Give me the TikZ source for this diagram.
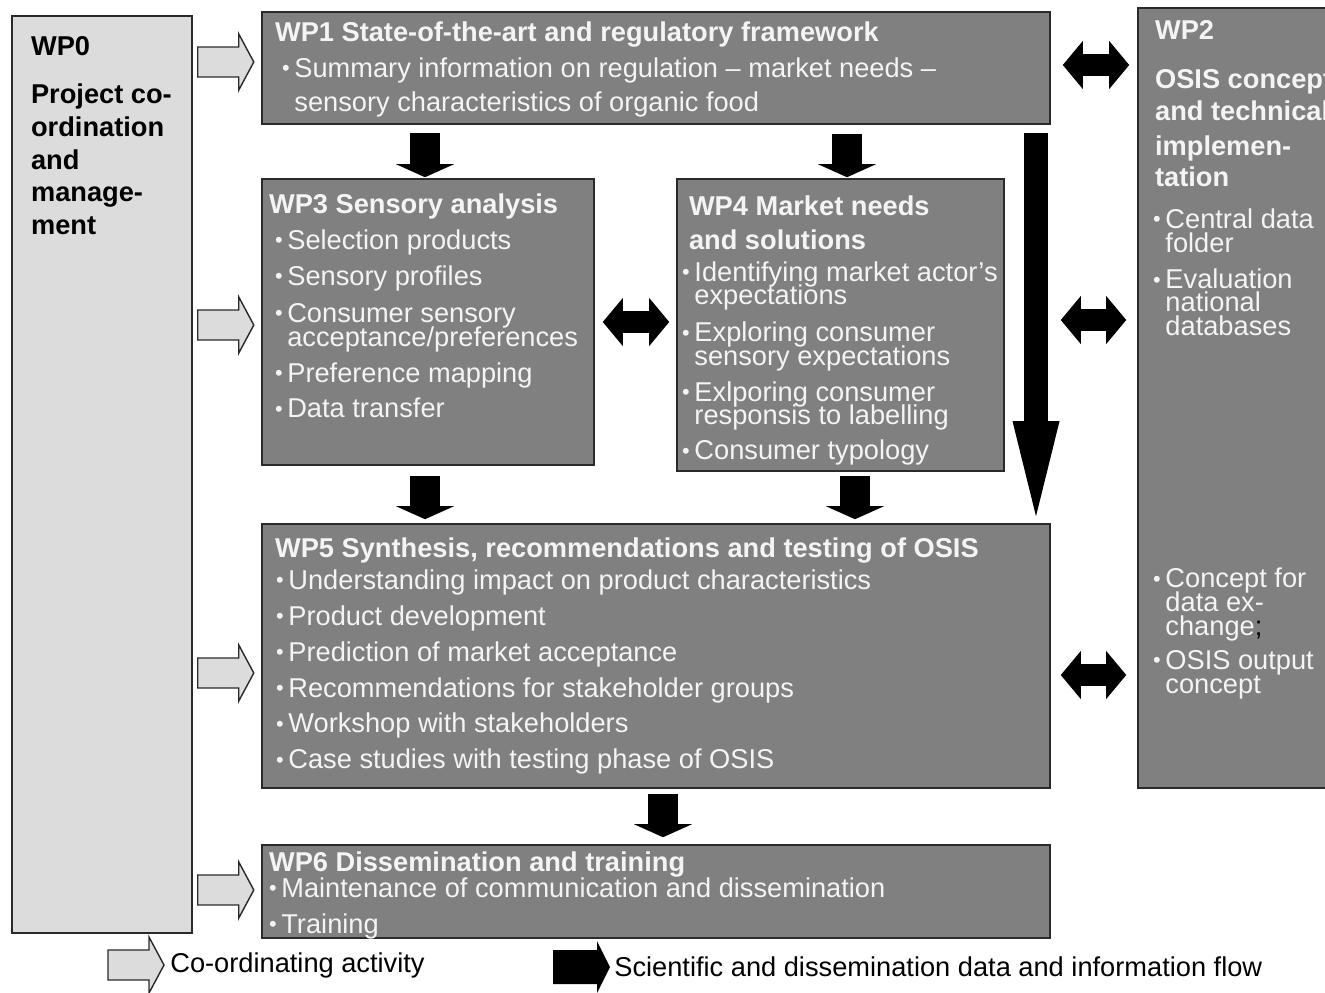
\documentclass[tikz,border=0pt]{standalone}
\usepackage{fontspec}
\setmainfont{Liberation Sans}
\usetikzlibrary{arrows.meta, positioning, calc, fit}
\definecolor{wpgray}{HTML}{808080}
\definecolor{wplight}{HTML}{DCDCDC}
\definecolor{wptext}{HTML}{F4F4F4}
\definecolor{wpline}{HTML}{2A2A2A}
\newcommand\bul{\makebox[7pt][l]{\raisebox{1pt}{\scalebox{0.8}{\textbullet}}}}
\newcommand\bulind{\hspace*{7pt}}

\begin{document}
\lineskiplimit=-20pt
\begin{tikzpicture}[x=0.02cm, y=-0.02cm, font=\fontsize{15.5}{13.6}\selectfont, >=Stealth]
  \tikzset{
    wpbox/.style={draw=wpline, line width=0.9pt, fill=wpgray, inner sep=0pt},
    wptxt/.style={anchor=north west, inner sep=0pt, align=left, text=wptext},
    flow/.style={line width=0.6cm, -{Triangle[length=0.26cm, width=1.16cm, line width=0pt]}},
    flowlong/.style={line width=0.48cm, -{Triangle[length=1.9cm, width=0.94cm, line width=0pt]}},
    flowboth/.style={line width=0.44cm, {Triangle[length=0.4cm, width=0.96cm, line width=0pt]}-{Triangle[length=0.4cm, width=0.96cm, line width=0pt]}},
    coordarrow/.pic={\draw[draw=wpline, fill=wplight, line width=0.8pt]
      (0,-15) -- (41,-15) -- (41,-28) -- (56,0) -- (41,28) -- (41,15) -- (0,15) -- cycle;},
    flowkey/.pic={\fill (0,-17) -- (44,-17) -- (44,-26) -- (57,0) -- (44,26) -- (44,17) -- (0,17) -- cycle;}
  }
  \path[use as bounding box] (0,0) rectangle (1325,992);
  \clip (0,0) rectangle (1325,992);

  % work packages
  \node[wpbox, fill=wplight, fit={(12,16) (192,933)}] (wp0) {};
  \node[wpbox, fit={(262,12) (1050,124)}] (wp1) {};
  \node[wpbox, fit={(1138,8) (1350,788)}] (wp2) {};
  \node[wpbox, fit={(262,179) (594,465)}] (wp3) {};
  \node[wpbox, fit={(677,179) (1004,471)}] (wp4) {};
  \node[wpbox, fit={(262,524) (1050,788)}] (wp5) {};
  \node[wpbox, fit={(262,845) (1050,938)}] (wp6) {};

  \node[wptxt, text=black, font=\fontsize{15.5}{18.6}\selectfont\bfseries] (wp0txt) at ($(wp0.north west)+(19.5,20.5)$)
    {WP0\\[9.1pt] Project co-\\ ordination\\ and\\ manage-\\ ment};
  \node[wptxt] (wp1txt) at ($(wp1.north west)+(13.5,10.5)$)
    {\textbf{WP1 State-of-the-art and regulatory framework}\\[6.8pt]
     \hspace*{4pt}\bul Summary information on regulation – market needs –\\[5.7pt]
     \hspace*{4pt}\bulind sensory characteristics of organic food};
  \node[wptxt] (wp2txt) at ($(wp2.north west)+(15.6,12.5)$)
    {\hspace*{1.1pt}\textbf{WP2}\\[14.7pt]
     \hspace*{1.1pt}\textbf{OSIS concept}\\[4.5pt]
     \hspace*{1.1pt}\textbf{and technical}\\[6.2pt]
     \hspace*{1.1pt}\textbf{implemen-}\\[4pt]
     \hspace*{1.1pt}\textbf{tation}\\[10.2pt]
     \bul Central data\\ \bulind folder\\[7.4pt]
     \bul Evaluation\\[-0.6pt] \bulind national\\ \bulind databases};
  \node[wptxt] (wp2low) at ($(wp2.north west)+(15.6,560.5)$)
    {\bul Concept for\\ \bulind data ex-\\ \bulind change{\color{black};}\\[5.7pt]
     \bul OSIS output\\ \bulind concept};
  \node[wptxt] (wp3txt) at ($(wp3.north west)+(7.5,15.5)$)
    {\textbf{WP3 Sensory analysis}\\[6.8pt]
     \hspace*{3.4pt}\bul Selection products\\[6.8pt]
     \hspace*{3.4pt}\bul Sensory profiles\\[7.4pt]
     \hspace*{3.4pt}\bul Consumer sensory\\
     \hspace*{3.4pt}\bulind acceptance/preferences\\[6.8pt]
     \hspace*{3.4pt}\bul Preference mapping\\[6.8pt]
     \hspace*{3.4pt}\bul Data transfer};
  \node[wptxt] (wp4txt) at ($(wp4.north west)+(5.6,17)$)
    {\hspace*{3.9pt}\textbf{WP4 Market needs}\\[5.7pt]
     \hspace*{3.9pt}\textbf{and solutions}\\[4.5pt]
     \bul Identifying market actor's\\ \bulind expectations\\[7.4pt]
     \bul Exploring consumer\\ \bulind sensory expectations\\[6.8pt]
     \bul Exlporing consumer\\[-0.8pt] \bulind responsis to labelling\\[6.8pt]
     \bul Consumer typology};
  \node[wptxt] (wp5txt) at ($(wp5.north west)+(13.5,14.5)$)
    {\textbf{WP5 Synthesis, recommendations and testing of OSIS}\\[4.5pt]
     \hspace*{0.6pt}\bul Understanding impact on product characteristics\\[6.8pt]
     \hspace*{0.6pt}\bul Product development\\[6.8pt]
     \hspace*{0.6pt}\bul Prediction of market acceptance\\[6.8pt]
     \hspace*{0.6pt}\bul Recommendations for stakeholder groups\\[6.8pt]
     \hspace*{0.6pt}\bul Workshop with stakeholders\\[6.8pt]
     \hspace*{0.6pt}\bul Case studies with testing phase of OSIS};
  \node[wptxt] (wp6txt) at ($(wp6.north west)+(7.5,7.5)$)
    {\textbf{WP6 Dissemination and training}\\[1.1pt]
     \bul Maintenance of communication and dissemination\\[6.8pt]
     \bul Training};

  % co-ordinating activity
  \foreach \ypos in {62, 325, 673, 890}
    \pic at ($(wp0.east |- 0,\ypos)+(5,0)$) {coordarrow};

  % data and information flow
  \draw[flow, shorten <=0.16cm, shorten >=0.02cm] (wp1.south -| 425,0) -- (wp3.north -| 425,0);
  \draw[flow, shorten <=0.18cm, shorten >=0.02cm] (wp1.south -| 847,0) -- (wp4.north -| 847,0);
  \draw[flow, shorten <=0.2cm, shorten >=0.08cm] (wp3.south -| 425,0) -- (wp5.north -| 425,0);
  \draw[flow, shorten <=0.08cm, shorten >=0.08cm] (wp4.south -| 855,0) -- (wp5.north -| 855,0);
  \draw[flow, shorten <=0.1cm, shorten >=0.14cm] (wp5.south -| 663,0) -- (wp6.north -| 663,0);
  \draw[flowlong, shorten <=0.16cm, shorten >=0.14cm] (wp1.south -| 1036,0) -- (wp5.north -| 1036,0);
  \draw[flowboth, shorten <=0.24cm, shorten >=0.16cm] (wp1.east |- 0,65) -- (wp2.west |- 0,65);
  \draw[flowboth, shorten <=0.16cm, shorten >=0.14cm] (wp3.east |- 0,322) -- (wp4.west |- 0,322);
  \draw[flowboth, shorten <=1.12cm, shorten >=0.22cm] (wp4.east |- 0,320) -- (wp2.west |- 0,320);
  \draw[flowboth, shorten <=0.2cm, shorten >=0.22cm] (wp5.east |- 0,675) -- (wp2.west |- 0,675);

  % legend
  \pic at (108,965) {coordarrow};
  \node[anchor=west, inner sep=0pt] (keycoord) at (170,965) {Co-ordinating activity};
  \pic at (553,967) {flowkey};
  \node[anchor=west, inner sep=0pt] (keyflow) at (614,967) {Scientific and dissemination data and information flow};
\end{tikzpicture}
\end{document}
